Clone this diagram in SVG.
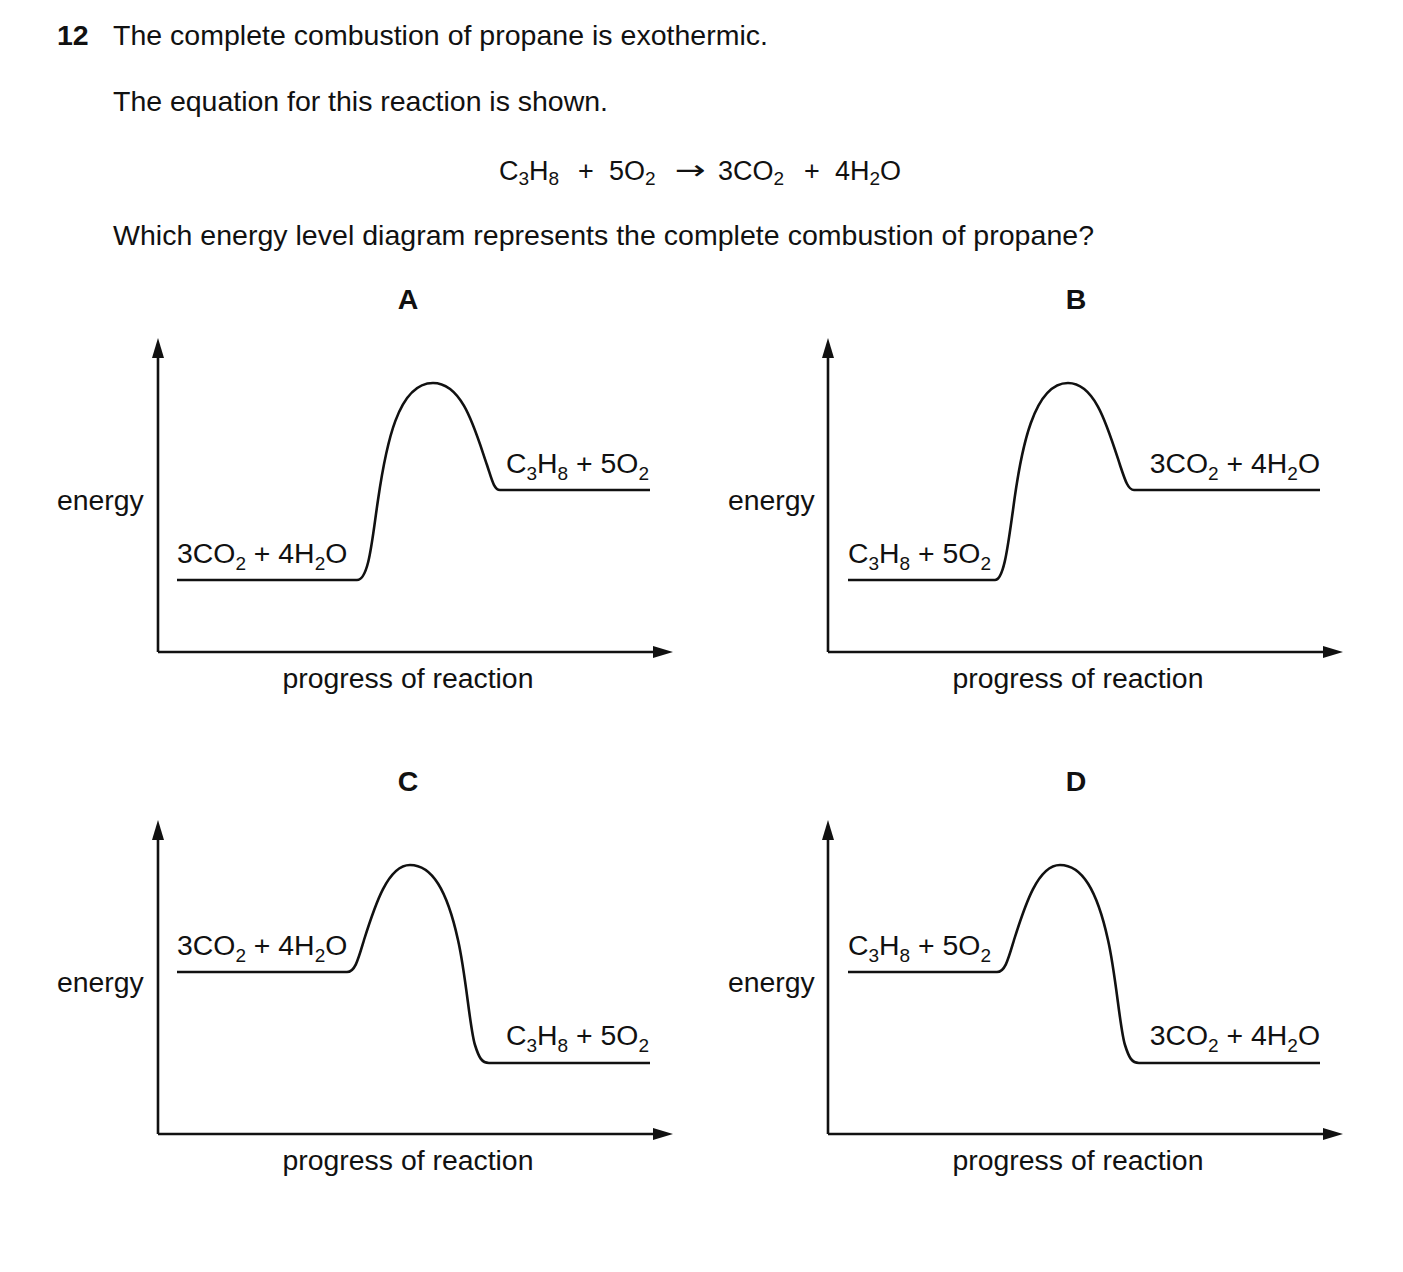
<svg xmlns="http://www.w3.org/2000/svg" width="1403" height="1272" viewBox="0 0 1403 1272">
<defs>
<style>
text{font-family:"Liberation Sans",Arial,sans-serif;fill:#111;}
.q{font-size:28.5px;}
.b{font-weight:bold;}
.lbl{font-size:28.4px;}
.eq{font-size:27px;}
.arrow{font-family:"DejaVu Sans",sans-serif;font-size:27px;}
.sub{font-size:19px;}
.axis{stroke:#111;stroke-width:2.6;fill:none;}
.curve{stroke:#111;stroke-width:2.6;fill:none;stroke-linejoin:round;}
</style>
<marker id="ah" markerUnits="userSpaceOnUse" markerWidth="20" markerHeight="12" refX="0" refY="6" orient="auto">
<path d="M0,0 L20,6 L0,12 z" fill="#111"/>
</marker>
</defs>
<rect width="1403" height="1272" fill="#fff"/>

<g id="question">
<text class="q b" x="57" y="45">12</text>
<text class="q" x="113" y="45" textLength="655">The complete combustion of propane is exothermic.</text>
<text class="q" x="113" y="111" textLength="495">The equation for this reaction is shown.</text>
<text class="q" x="113" y="245" textLength="981">Which energy level diagram represents the complete combustion of propane?</text>
</g>

<g id="equation">
<text class="eq" x="499" y="180">C<tspan class="sub" dy="5">3</tspan><tspan dy="-5">H</tspan><tspan class="sub" dy="5">8</tspan></text>
<text class="eq" x="578" y="180">+</text>
<text class="eq" x="609" y="180">5O<tspan class="sub" dy="5">2</tspan></text>
<text class="arrow" x="675" y="179" textLength="31" lengthAdjust="spacingAndGlyphs">→</text>
<text class="eq" x="718" y="180">3CO<tspan class="sub" dy="5">2</tspan></text>
<text class="eq" x="804" y="180">+</text>
<text class="eq" x="835" y="180">4H<tspan class="sub" dy="5">2</tspan><tspan dy="-5">O</tspan></text>
</g>

<g id="connectors">
<line class="axis" x1="158" y1="652" x2="158" y2="358" marker-end="url(#ah)"/>
<line class="axis" x1="158" y1="652" x2="653" y2="652" marker-end="url(#ah)"/>
<line class="axis" x1="828" y1="652" x2="828" y2="358" marker-end="url(#ah)"/>
<line class="axis" x1="828" y1="652" x2="1323" y2="652" marker-end="url(#ah)"/>
<line class="axis" x1="158" y1="1134" x2="158" y2="840" marker-end="url(#ah)"/>
<line class="axis" x1="158" y1="1134" x2="653" y2="1134" marker-end="url(#ah)"/>
<line class="axis" x1="828" y1="1134" x2="828" y2="840" marker-end="url(#ah)"/>
<line class="axis" x1="828" y1="1134" x2="1323" y2="1134" marker-end="url(#ah)"/>
</g>

<g id="diagramA">
<text class="q b" x="408" y="309" text-anchor="middle">A</text>
<text class="lbl" x="57" y="510">energy</text>
<text class="lbl" x="408" y="688" text-anchor="middle">progress of reaction</text>
<path class="curve" d="M177,580 H357 C369,580 372,540 378,500 C386,445 398,383 433,383 C463,383 475,430 487,465 C492,480 494,490 500,490 H650"/>
<text class="lbl" x="177" y="563">3CO<tspan class="sub" dy="7">2</tspan><tspan dy="-7"> + 4H</tspan><tspan class="sub" dy="7">2</tspan><tspan dy="-7">O</tspan></text>
<text class="lbl" x="649" y="473" text-anchor="end">C<tspan class="sub" dy="7">3</tspan><tspan dy="-7">H</tspan><tspan class="sub" dy="7">8</tspan><tspan dy="-7"> + 5O</tspan><tspan class="sub" dy="7">2</tspan></text>
</g>

<g id="diagramB">
<text class="q b" x="1076" y="309" text-anchor="middle">B</text>
<text class="lbl" x="728" y="510">energy</text>
<text class="lbl" x="1078" y="688" text-anchor="middle">progress of reaction</text>
<path class="curve" d="M848,580 H995 C1004,580 1008,545 1013,510 C1021,448 1034,383 1068,383 C1095,383 1107,425 1120,465 C1125,480 1128,490 1134,490 H1320"/>
<text class="lbl" x="848" y="563">C<tspan class="sub" dy="7">3</tspan><tspan dy="-7">H</tspan><tspan class="sub" dy="7">8</tspan><tspan dy="-7"> + 5O</tspan><tspan class="sub" dy="7">2</tspan></text>
<text class="lbl" x="1320" y="473" text-anchor="end">3CO<tspan class="sub" dy="7">2</tspan><tspan dy="-7"> + 4H</tspan><tspan class="sub" dy="7">2</tspan><tspan dy="-7">O</tspan></text>
</g>

<g id="diagramC">
<text class="q b" x="408" y="791" text-anchor="middle">C</text>
<text class="lbl" x="57" y="992">energy</text>
<text class="lbl" x="408" y="1170" text-anchor="middle">progress of reaction</text>
<path class="curve" d="M177,972 H347 C355,972 358,960 364,940 C375,905 388,865 410,865 C432,865 447,890 458,940 C466,975 470,1030 475,1045 C479,1058 482,1063 489,1063 H650"/>
<text class="lbl" x="177" y="955">3CO<tspan class="sub" dy="7">2</tspan><tspan dy="-7"> + 4H</tspan><tspan class="sub" dy="7">2</tspan><tspan dy="-7">O</tspan></text>
<text class="lbl" x="649" y="1045" text-anchor="end">C<tspan class="sub" dy="7">3</tspan><tspan dy="-7">H</tspan><tspan class="sub" dy="7">8</tspan><tspan dy="-7"> + 5O</tspan><tspan class="sub" dy="7">2</tspan></text>
</g>

<g id="diagramD">
<text class="q b" x="1076" y="791" text-anchor="middle">D</text>
<text class="lbl" x="728" y="992">energy</text>
<text class="lbl" x="1078" y="1170" text-anchor="middle">progress of reaction</text>
<path class="curve" d="M848,972 H997 C1005,972 1008,960 1014,940 C1025,905 1038,865 1060,865 C1082,865 1097,890 1108,940 C1116,975 1120,1030 1125,1045 C1129,1058 1132,1063 1139,1063 H1320"/>
<text class="lbl" x="848" y="955">C<tspan class="sub" dy="7">3</tspan><tspan dy="-7">H</tspan><tspan class="sub" dy="7">8</tspan><tspan dy="-7"> + 5O</tspan><tspan class="sub" dy="7">2</tspan></text>
<text class="lbl" x="1320" y="1045" text-anchor="end">3CO<tspan class="sub" dy="7">2</tspan><tspan dy="-7"> + 4H</tspan><tspan class="sub" dy="7">2</tspan><tspan dy="-7">O</tspan></text>
</g>
</svg>
